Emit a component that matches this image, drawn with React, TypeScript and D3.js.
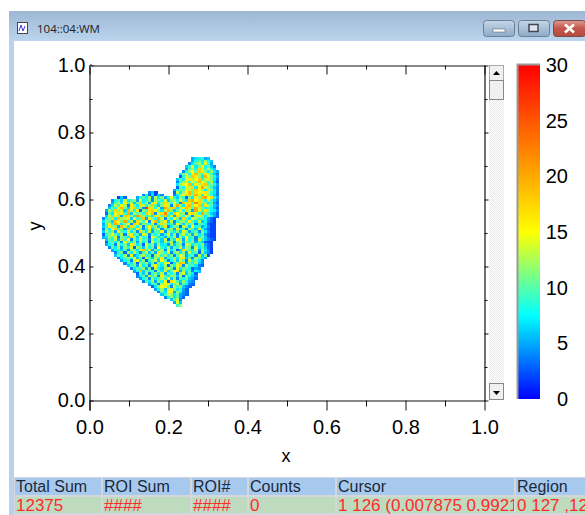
import React, { useEffect, useRef } from "react";
import * as d3 from "d3";

const titleText = "104::04:WM";
const xLabel = "x";
const yLabel = "y";
const countTicks = [0, 5, 10, 15, 20, 25, 30];
const colorStops = [0, 7.5, 15, 30];
const colorRange = ["#0000ff", "#00ffff", "#ffff00", "#ff0000"];

const tableHeaders = ["Total Sum", "ROI Sum", "ROI#", "Counts", "Cursor", "Region"];
const tableValues = ["12375", "####", "####", "0", "1 126 (0.007875 0.9921", "0 127 ,12"];
const tableEdges = [15, 103, 192, 249, 337, 516, 600];

// first column of every row of the histogram, top row first (128 x 128 bins)
const rowStart = [
  33, 33, 32, 31, 31, 30, 29, 29, 28, 28, 28, 28, 27, 19, 17, 9, 7, 7, 6, 6, 5, 5, 5, 4, 4, 4, 4, 4, 4,
  4, 4, 5, 5, 5, 6, 7, 8, 8, 9, 10, 11, 12, 13, 14, 15, 15, 16, 17, 19, 20, 21, 22, 23, 24, 26, 27, 28,
];
const firstRowBin = 92;

// counts per bin, one base 36 digit each, "." is an empty bin
const rowCounts = [
  "578956",
  "58a7c86",
  "47ac8e95",
  "69e7bg8a64",
  "5ac8hd9e86",
  "48cfaigb7c75",
  "7bd8fjc9gd964",
  "39fbigc7jeb85",
  "6a7egcfi9dgb74",
  "48ch9fbjfc8d63",
  "7cefj8gdhiab85",
  "3a8gdh7fkdc964",
  "58c9gebifc7hb74",
  "462.....3d7cfjahfegc974",
  "4837264...47cehibjg8fc964",
  "263...59a7c4d7b58e86c93a7gcjkfh85",
  "48a6d7ac5e79b4ca8e6bc8fa7ikfhc8e964",
  "5ac7g9d6bi8c5dg7bhc9fa4jfg9mhbc7a53",
  "47d9fc4gb7hd8cia6bge4dkc7hjbfi8gc964",
  "6b8gjb6ei9c4rhd8f5kbhi7cfjg9kdb7a853",
  "5c9hbe6jd8g3c9hifb7djc6ag8hc5ke9gb874",
  "3a7ehg9k6dac8iej4dhma7ifbc4ghd8kb9653",
  "6d9fb5ihc7ljc8b7gdai8e5hc9fa4dgb7c853",
  "48bh7jcdg6e9ai5gb8kd4c8fb6ha7ec9b8532",
  "7ca6ifbk8d5hc9f4ej7cg6d49bc8fa7d68432",
  "5ae8kh7bf4ig6ca8d4bhc8a5fb6d9c49a7322",
  "69gcb5jd7hc8e4bf9c6ag47ca3db6f8a57422",
  "4b7fi9c5kb7ga48e6bd4a9c5g8a4ca6e85322",
  "6d9c5ga8e7c4hb7d5a9f4ca7b6ec58a4b7422",
  "38bfa7d4cg8a5ec4a8b59f6c4ad8b5c7a5322",
  "57c9e4ba7hc6d8a3fc795b8d4c7f9a49b6322",
  "6a8d5c9f4b7e9a4c8b6d3a7fc5g8a4d96432",
  "39b7c4ea8d5c7b3f9a6c8d4ag6b9c5a6322",
  "58a4d8b6gc7a3e9b5c784c6ab4ec7a8c532",
  "4a7c5b8e3ca6d8b4f97c5a9g6cb4d7a632",
  "5896a4cb7gi9d5a8c4e7b36hca7d4b742",
  "48b3c7e94ad6b5hc8e4ac7b5d8a3c642",
  "6a8c4g57bd8a3ce9c7b4afc58a4d6b3",
  "47ac9e6b3da6c8g5a9c7eg6b4ca75",
  "58a4de7c39bd6fa48c6ea4d8b74",
  "4a7c3b9d6a4c8ef37cjh5a8c64",
  "69b5e7a4cga7c3b8eh4c9a743",
  "47a9c5b3d86cfa4e7ba8354",
  "58j6b9a4c7d6afh5c7a486",
  "3a6c49b7d5a8c4be6a73",
  "47a5d8c4ga7cb6d3a864",
  "58b4c7ad9f6c4a8b653",
  "4a7c5b8f3hea6c854",
  "59a4cfg7bd5a843",
  "37bfea4d9c643",
  "58c6deb7a53",
  "4a7fg5c843",
  "69dc7a543",
  "48c7a53",
  "6ad4",
  "5e6",
  "9c",
];

const plot = { left: 89.5, right: 484.5, top: 65.5, bottom: 400.5 };
const bar = { left: 518, right: 540, top: 65, bottom: 399 };
const FONT = "'Liberation Sans', Arial, sans-serif";

export default function App() {
  const axesRef = useRef<SVGGElement>(null);

  const x = d3.scaleLinear().domain([0, 1]).range([plot.left, plot.right]);
  const y = d3.scaleLinear().domain([0, 1]).range([plot.bottom, plot.top]);
  const binX = d3.scaleLinear().domain([0, 128]).range([plot.left, plot.right]);
  const binY = d3.scaleLinear().domain([0, 128]).range([plot.bottom, plot.top]);
  const color = d3.scaleLinear<string>().domain(colorStops).range(colorRange).clamp(true);
  const barY = d3.scaleLinear().domain([0, 30]).range([bar.bottom, bar.top]);

  const cells: { col: number; row: number; v: number }[] = [];
  rowCounts.forEach((s, k) => {
    s.split("").forEach((c, i) => {
      if (c === ".") return;
      cells.push({ col: rowStart[k] + i, row: firstRowBin - k, v: parseInt(c, 36) });
    });
  });

  useEffect(() => {
    const g = d3.select(axesRef.current);
    g.selectAll("*").remove();

    const major = [0, 0.2, 0.4, 0.6, 0.8, 1];
    const minor = [0.1, 0.3, 0.5, 0.7, 0.9];
    const fmt = d3.format(".1f");

    const style = (sel: any) => {
      sel.select(".domain").attr("stroke", "#111").attr("stroke-width", 1.2);
      sel.selectAll("line").attr("stroke", "#111");
      sel.selectAll("text").attr("font-family", FONT).attr("font-size", 20).attr("fill", "#000");
    };

    // bottom + left carry labels, top + right only ticks
    const bottom = g.append("g").attr("transform", `translate(0,${plot.bottom})`);
    bottom.call(d3.axisBottom(x).tickValues(major).tickSize(10).tickSizeOuter(0).tickFormat(fmt as any).tickPadding(9) as any);
    style(bottom);
    bottom.append("g").call(d3.axisBottom(x).tickValues(minor).tickSize(6).tickFormat(() => "") as any)
      .call((s: any) => s.select(".domain").remove()).selectAll("line").attr("stroke", "#111");

    const left = g.append("g").attr("transform", `translate(${plot.left},0)`);
    left.call(d3.axisLeft(y).tickValues(major).tickSize(-4).tickSizeOuter(0).tickFormat(fmt as any).tickPadding(8) as any);
    style(left);
    left.selectAll("text").attr("x", -4);
    left.select(".domain").attr("d", `M0.5,${plot.top}V${plot.bottom + 10}`);
    left.append("g").call(d3.axisLeft(y).tickValues(minor).tickSize(-3).tickFormat(() => "") as any)
      .call((s: any) => s.select(".domain").remove()).selectAll("line").attr("stroke", "#111");

    const top = g.append("g").attr("transform", `translate(0,${plot.top})`);
    top.call(d3.axisTop(x).tickValues(major).tickSize(-9).tickSizeOuter(0).tickFormat(() => "") as any);
    style(top);
    top.append("g").call(d3.axisTop(x).tickValues(minor).tickSize(-4).tickFormat(() => "") as any)
      .call((s: any) => s.select(".domain").remove()).selectAll("line").attr("stroke", "#111");

    const right = g.append("g").attr("transform", `translate(${plot.right},0)`);
    right.call(d3.axisRight(y).tickValues(major).tickSize(4).tickSizeOuter(0).tickFormat(() => "") as any);
    style(right);
    right.append("g").call(d3.axisRight(y).tickValues(minor).tickSize(3).tickFormat(() => "") as any)
      .call((s: any) => s.select(".domain").remove()).selectAll("line").attr("stroke", "#111");

    // colour bar labels
    const bar_ = g.append("g").attr("transform", `translate(${bar.right},0)`);
    bar_.call(d3.axisRight(barY).tickValues(countTicks).tickSize(0).tickPadding(6) as any);
    bar_.select(".domain").remove();
    bar_.selectAll("text").attr("font-family", FONT).attr("font-size", 20).attr("fill", "#000")
      .attr("text-anchor", "end").attr("x", 28);
  }, []);

  return (
    <svg width={585} height={515} style={{ position: "absolute", left: 0, top: 0, background: "#fff" }}>
      <defs>
        <linearGradient id="titlebar" x1="0" y1="0" x2="0" y2="1">
          <stop offset="0" stopColor="#9db6d3" />
          <stop offset="1" stopColor="#bcd5ee" />
        </linearGradient>
        <linearGradient id="btn" x1="0" y1="0" x2="0" y2="1">
          <stop offset="0" stopColor="#c5d6e8" />
          <stop offset="0.5" stopColor="#a9c0d8" />
          <stop offset="1" stopColor="#8ba9c7" />
        </linearGradient>
        <linearGradient id="closeBtn" x1="0" y1="0" x2="0" y2="1">
          <stop offset="0" stopColor="#dc9a92" />
          <stop offset="0.5" stopColor="#c4564a" />
          <stop offset="1" stopColor="#b44a3e" />
        </linearGradient>
        <linearGradient id="countBar" x1="0" y1="1" x2="0" y2="0">
          {colorStops.map((v) => (
            <stop key={v} offset={v / 30} stopColor={color(v)} />
          ))}
        </linearGradient>
        <pattern id="dither" width="2" height="2" patternUnits="userSpaceOnUse">
          <rect width="2" height="2" fill="#fff" />
          <rect width="1" height="1" fill="#e8e8e8" />
          <rect x="1" y="1" width="1" height="1" fill="#e8e8e8" />
        </pattern>
        <clipPath id="cursorClip">
          <rect x={337} y={496} width={177} height={19} />
        </clipPath>
      </defs>

      {/* window frame */}
      <rect x={9} y={11} width={576} height={504} fill="#b9d1ea" />
      <rect x={9} y={11} width={576} height={30} fill="url(#titlebar)" />
      <rect x={14} y={41} width={571} height={436} fill="#fff" />
      <rect x={17.5} y={22.5} width={10} height={11} fill="#fff" stroke="#445" />
      <path d="M19,31 L21,25 L23,31 L25,26" fill="none" stroke="#3a3ae0" />
      <text x={37} y={33} fontFamily="'Open Sans', sans-serif" fontSize={11.5} fill="#222">{titleText}</text>

      <rect x={483.5} y={20.5} width={31} height={16} rx={3} fill="url(#btn)" stroke="#6d7f93" />
      <rect x={493} y={29} width={12} height={3} fill="#fff" stroke="#556" strokeWidth={0.5} />
      <rect x={518.5} y={20.5} width={31} height={16} rx={3} fill="url(#btn)" stroke="#6d7f93" />
      <rect x={529} y={24.5} width={9} height={7} fill="#dde6f0" stroke="#445" strokeWidth={1.5} />
      <rect x={553.5} y={20.5} width={32} height={16} rx={3} fill="url(#closeBtn)" stroke="#7c4a44" />
      <path d="M565,24.5 L574,32.5 M574,24.5 L565,32.5" stroke="#fff" strokeWidth={2.6} />

      {/* histogram */}
      <g shapeRendering="crispEdges" style={{ filter: "blur(0.4px)" }}>
        {cells.map((d) => (
          <rect
            key={`${d.col}-${d.row}`}
            x={binX(d.col)}
            y={binY(d.row + 1)}
            width={binX(1) - binX(0) + 0.3}
            height={binY(0) - binY(1) + 0.3}
            fill={color(d.v)}
          />
        ))}
      </g>

      {/* scroll bar */}
      <rect x={489} y={65} width={15} height={335} fill="url(#dither)" />
      <rect x={489.5} y={65.5} width={14} height={15} fill="#f0f0f0" stroke="#aaa" />
      <rect x={489.5} y={80.5} width={14} height={19} fill="#f0f0f0" stroke="#888" />
      <path d="M493,75 L500,75 L496.5,71 Z" fill="#000" />
      <rect x={489.5} y={383.5} width={14} height={16} fill="#f0f0f0" stroke="#888" />
      <path d="M493,391 L500,391 L496.5,395 Z" fill="#000" />

      <g ref={axesRef} />
      <rect x={90} y={64} width={2} height={1} fill="#d9708a" />
      <rect x={90} y={66} width={2} height={1} fill="#10a8a0" />

      <text x={286} y={462} textAnchor="middle" fontFamily={FONT} fontSize={18} fill="#000">{xLabel}</text>
      <text transform="translate(41,226) rotate(-90)" textAnchor="middle" fontFamily={FONT} fontSize={18} fill="#000">{yLabel}</text>

      {/* colour bar */}
      <rect x={bar.left} y={bar.top} width={bar.right - bar.left} height={bar.bottom - bar.top} fill="url(#countBar)" />
      <path d={`M${bar.left - 0.5},${bar.bottom}V${bar.top - 0.5}H${bar.right}`} fill="none" stroke="#999" strokeWidth={2} />

      {/* status table */}
      <rect x={14} y={477} width={571} height={38} fill="#d4d8dc" />
      {tableHeaders.map((h, i) => (
        <g key={h}>
          <rect x={tableEdges[i]} y={478} width={tableEdges[i + 1] - tableEdges[i] - 2} height={17} fill="#a8c9ee" />
          <rect x={tableEdges[i]} y={497} width={tableEdges[i + 1] - tableEdges[i] - 2} height={16} fill="#bfdbbf" />
          <text x={tableEdges[i] + 1} y={492} fontFamily={FONT} fontSize={16} fill="#1a2a3a">{h}</text>
          <text
            x={tableEdges[i] + 1}
            y={511}
            fontFamily={FONT}
            fontSize={17}
            fill="#ff2a2a"
            clipPath={i === 4 ? "url(#cursorClip)" : undefined}
          >
            {tableValues[i]}
          </text>
        </g>
      ))}
    </svg>
  );
}
